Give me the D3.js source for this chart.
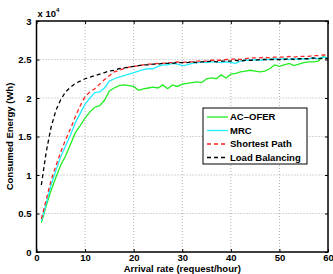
<!DOCTYPE html>
<html>
<head>
<meta charset="utf-8">
<script src="https://cdn.jsdelivr.net/npm/d3@7"></script>
<style>
  body { margin: 0; background: #fff; }
  svg text { font-family: "Liberation Sans", Arial, sans-serif; font-weight: bold; }
</style>
</head>
<body>
<div id="chart"></div>
<script>
// arrival rate 1..60
const RATES = d3.range(1, 61);

// values in units of 10^4 Wh
const AC_OFER = [0.38,0.60,0.80,0.97,1.13,1.25,1.40,1.55,1.64,1.74,1.82,1.88,1.90,1.97,2.09,2.13,2.16,2.17,2.16,2.15,
  2.10,2.12,2.13,2.14,2.13,2.17,2.12,2.17,2.15,2.18,2.19,2.20,2.21,2.20,2.25,2.26,2.25,2.30,2.26,2.31,
  2.32,2.34,2.35,2.36,2.35,2.34,2.35,2.38,2.43,2.41,2.43,2.45,2.42,2.44,2.46,2.47,2.47,2.48,2.54,2.51];
const MRC = [0.40,0.63,0.87,1.06,1.24,1.38,1.52,1.68,1.80,1.92,2.00,2.07,2.08,2.13,2.22,2.25,2.27,2.29,2.31,2.33,
  2.35,2.37,2.38,2.38,2.41,2.43,2.43,2.45,2.44,2.42,2.43,2.45,2.46,2.47,2.46,2.47,2.47,2.46,2.47,2.46,
  2.45,2.48,2.49,2.49,2.50,2.49,2.50,2.50,2.51,2.50,2.51,2.50,2.51,2.50,2.51,2.51,2.52,2.51,2.53,2.52];
const SHORTEST = [0.43,0.68,0.93,1.12,1.30,1.46,1.60,1.76,1.90,2.02,2.08,2.12,2.18,2.24,2.29,2.34,2.36,2.38,2.40,2.41,
  2.42,2.43,2.44,2.44,2.45,2.45,2.46,2.46,2.47,2.46,2.47,2.47,2.48,2.48,2.48,2.49,2.49,2.49,2.50,2.50,
  2.51,2.50,2.51,2.52,2.52,2.52,2.53,2.52,2.53,2.53,2.53,2.54,2.53,2.54,2.54,2.54,2.55,2.55,2.56,2.55];
const LOAD_BAL = [0.87,1.30,1.62,1.84,1.98,2.08,2.14,2.19,2.22,2.25,2.27,2.29,2.31,2.33,2.35,2.36,2.38,2.39,2.40,2.41,
  2.42,2.43,2.43,2.44,2.44,2.45,2.45,2.45,2.46,2.46,2.46,2.47,2.46,2.47,2.47,2.48,2.47,2.48,2.48,2.48,
  2.49,2.48,2.49,2.49,2.49,2.50,2.50,2.50,2.50,2.50,2.50,2.51,2.50,2.51,2.51,2.51,2.52,2.51,2.52,2.51];

const X_TICKS = [0, 10, 20, 30, 40, 50, 60];
const Y_TICKS = [0, 0.5, 1, 1.5, 2, 2.5, 3];
const Y_TICK_LABELS = ["0", "0.5", "1", "1.5", "2", "2.5", "3"];

const SERIES = [
  { name: "AC\u2013OFER",      values: AC_OFER,  color: "#22ee22", dash: null },
  { name: "MRC",            values: MRC,      color: "#22eeff", dash: null },
  { name: "Shortest Path",  values: SHORTEST, color: "#ff2222", dash: "4,3" },
  { name: "Load Balancing", values: LOAD_BAL, color: "#000000", dash: "4,3" },
];

const W = 333, H = 274;
const M = { t: 21, r: 5, b: 22, l: 36.5 };
const w = W - M.l - M.r, h = H - M.t - M.b;

const svg = d3.select("#chart").append("svg").attr("width", W).attr("height", H);
const g = svg.append("g").attr("transform", `translate(${M.l},${M.t})`);

const x = d3.scaleLinear().domain([0, 60]).range([0, w]);
const y = d3.scaleLinear().domain([0, 3]).range([h, 0]);

// dotted grid
g.append("g").selectAll("line")
  .data(X_TICKS.slice(1, -1))
  .join("line")
  .attr("x1", d => x(d)).attr("x2", d => x(d))
  .attr("y1", 0).attr("y2", h)
  .attr("stroke", "#999").attr("stroke-width", 0.8).attr("stroke-dasharray", "1,2");
g.append("g").selectAll("line")
  .data(Y_TICKS.slice(1, -1))
  .join("line")
  .attr("x1", 0).attr("x2", w)
  .attr("y1", d => y(d)).attr("y2", d => y(d))
  .attr("stroke", "#999").attr("stroke-width", 0.8).attr("stroke-dasharray", "1,2");

// lines
const line = d3.line()
  .x((d, i) => x(RATES[i]))
  .y(d => y(d));

g.append("g").selectAll("path")
  .data(SERIES)
  .join("path")
  .attr("fill", "none")
  .attr("stroke", d => d.color)
  .attr("stroke-width", 1.3)
  .attr("stroke-dasharray", d => d.dash)
  .attr("d", d => line(d.values));

// axes with inward ticks
const axB = g.append("g").attr("transform", `translate(0,${h})`)
  .call(d3.axisBottom(x).tickValues(X_TICKS).tickSize(-3).tickPadding(2));
const axL = g.append("g")
  .call(d3.axisLeft(y).tickValues(Y_TICKS).tickSize(-3).tickPadding(5)
    .tickFormat((d, i) => Y_TICK_LABELS[i]));
const axT = g.append("g")
  .call(d3.axisTop(x).tickValues(X_TICKS).tickSize(-3).tickFormat(""));
const axR = g.append("g").attr("transform", `translate(${w},0)`)
  .call(d3.axisRight(y).tickValues(Y_TICKS).tickSize(-3).tickFormat(""));

[axB, axL, axT, axR].forEach(a => {
  a.select(".domain").remove();
  a.selectAll("line").attr("stroke", "#000");
  a.selectAll("text").attr("fill", "#000").style("font-size", "9.5px");
});

g.append("rect")
  .attr("width", w).attr("height", h)
  .attr("fill", "none").attr("stroke", "#000").attr("stroke-width", 1.5);

// exponent
const exp = svg.append("text").attr("x", M.l + 1).attr("y", 17).style("font-size", "9.5px");
exp.append("tspan").text("x 10");
exp.append("tspan").attr("dy", -5).style("font-size", "6px").text("4");

// axis labels
svg.append("text")
  .attr("x", M.l + w / 2).attr("y", 272)
  .attr("text-anchor", "middle").style("font-size", "9.5px")
  .text("Arrival rate (request/hour)");
svg.append("text")
  .attr("transform", `translate(13,${M.t + h / 2}) rotate(-90)`)
  .attr("text-anchor", "middle").style("font-size", "9.5px")
  .text("Consumed Energy (Wh)");

// legend
const legend = svg.append("g").attr("transform", "translate(203,108)");
legend.append("rect")
  .attr("width", 104).attr("height", 56)
  .attr("fill", "#fff").attr("stroke", "#000").attr("stroke-width", 1);
const item = legend.selectAll("g.item")
  .data(SERIES)
  .join("g").attr("class", "item")
  .attr("transform", (_, i) => `translate(0,${9 + i * 13.5})`);
item.append("line")
  .attr("x1", 4).attr("x2", 25).attr("y1", 0).attr("y2", 0)
  .attr("stroke", d => d.color).attr("stroke-width", 1.3)
  .attr("stroke-dasharray", d => d.dash);
item.append("text")
  .attr("x", 27).attr("y", 0).attr("dy", "0.35em")
  .style("font-size", "9.5px")
  .text(d => d.name);
</script>
</body>
</html>
